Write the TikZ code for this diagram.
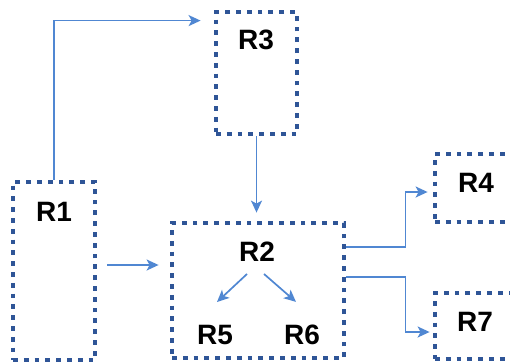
\documentclass[tikz,border=0pt]{standalone}
\usepackage{fontspec}
\setmainfont{Liberation Sans}
\usetikzlibrary{arrows.meta,calc}
\definecolor{boxblue}{RGB}{47,85,151}
\definecolor{arrblue}{RGB}{80,135,210}
\begin{document}
\begin{tikzpicture}[x=1pt,y=-1pt,
    regbox/.style={draw=boxblue,line width=4.8pt,dash pattern=on 4.8pt off 6pt,
        minimum width=#1,inner sep=0pt},
    lab/.style={font=\fontsize{28}{30}\selectfont\bfseries,inner sep=0pt},
    arr/.style={draw=arrblue,line width=1.7pt,-{Stealth[length=12pt,width=11pt,inset=3pt]}}]
    \useasboundingbox (0,0) rectangle (510,362);
    % region boxes
    \node[regbox=82pt,minimum height=178pt] (r1) at (54,271) {};
    \node[regbox=81pt,minimum height=122pt] (r3) at (256.5,73) {};
    \node[regbox=172pt,minimum height=135pt] (r2) at (258,290.5) {};
    \node[regbox=125pt,minimum height=68pt] (r4) at (497.5,188) {};
    \node[regbox=125pt,minimum height=66pt] (r7) at (497.5,326) {};
    % labels
    \node[lab] (r1lab) at (54,212) {R1};
    \node[lab] (r3lab) at (256,40) {R3};
    \node[lab] (r2lab) at (257,252) {R2};
    \node[lab] (r5lab) at (215,335) {R5};
    \node[lab] (r6lab) at (302,335) {R6};
    \node[lab] (r4lab) at (476,183) {R4};
    \node[lab] (r7lab) at (475,322) {R7};
    % links between regions
    \draw[arr] (r1.north) |- ([xshift=-13pt,yshift=-11pt]r3.north west);
    \draw[arr,shorten >=8pt] (r3.south) -- (r3.south |- r2.north);
    \draw[arr,shorten <=10pt,shorten >=11pt] ([yshift=6pt]r1.east) -- ([yshift=6pt]r1.east -| r2.west);
    \draw[arr] ([yshift=43.5pt]r2.east) -- ++(59,0) |- ([xshift=-5pt,yshift=-4pt]r4.west);
    \draw[arr] ([yshift=13.5pt]r2.east) -- ++(59,0) |- ([xshift=-3pt,yshift=-6pt]r7.west);
    % inside R2
    \draw[arr] ([xshift=-10pt,yshift=-12pt]r2lab.south) -- ([xshift=2pt,yshift=23pt]r5lab.north);
    \draw[arr] ([xshift=7pt,yshift=-12pt]r2lab.south) -- ([xshift=-6pt,yshift=23pt]r6lab.north);
\end{tikzpicture}
\end{document}
